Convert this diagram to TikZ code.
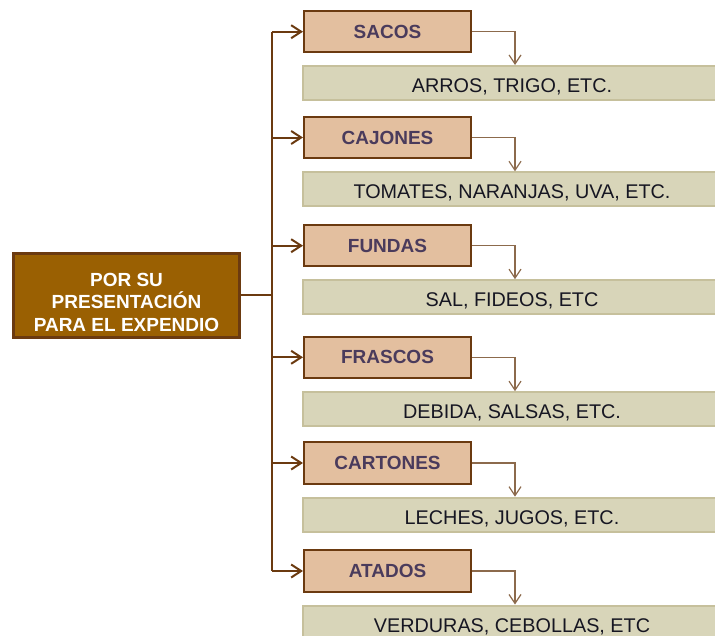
\documentclass[tikz,border=0pt]{standalone}
\usepackage{fontspec}
\setmainfont{Liberation Sans}
\usetikzlibrary{arrows.meta}

\definecolor{rootfill}{HTML}{9A6002}
\definecolor{darkbrown}{HTML}{6B3A10}
\definecolor{catfill}{HTML}{E3BF9F}
\definecolor{cattext}{HTML}{4A3B5C}
\definecolor{detfill}{HTML}{D8D5B9}
\definecolor{detline}{HTML}{C6C09C}
\definecolor{dettext}{HTML}{161622}
\definecolor{linkline}{HTML}{8C6A4C}

\tikzset{
  rootbox/.style={draw=darkbrown, line width=2.4pt, fill=rootfill,
    minimum width=226pt, minimum height=84pt, inner sep=0pt,
    align=center, text=white, text height=72pt, text depth=0pt,
    font=\fontsize{19}{22.5}\selectfont\bfseries},
  catbox/.style={draw=darkbrown, line width=2pt, fill=catfill,
    minimum width=167pt, minimum height=41.5pt, inner sep=0pt,
    text=cattext, font=\fontsize{19}{21}\selectfont\bfseries},
  detbox/.style={draw=detline, line width=2pt, fill=detfill,
    minimum width=418pt, minimum height=34pt, inner sep=0pt,
    text height=19.2pt, text depth=0pt,
    text=dettext, font=\fontsize{19.8}{22}\selectfont},
  trunkline/.style={draw=darkbrown, line width=2pt},
  branch/.style={draw=darkbrown, line width=2pt,
    -{Straight Barb[length=10pt, width=13pt, line width=2pt]}},
  droplink/.style={draw=linkline, line width=1.2pt,
    -{Straight Barb[length=9pt, width=12pt, line width=1.2pt]}},
}

\begin{document}
\begin{tikzpicture}[x=1pt, y=-1pt]
  \useasboundingbox (0,0) rectangle (715,635);

  % root
  \node[rootbox] (root) at (126.5,295.3) {POR SU\\PRESENTACIÓN\\PARA EL EXPENDIO};

  % categories
  \node[catbox] (c1) at (387.5,31.7)  {SACOS};
  \node[catbox] (c2) at (387.5,137.5) {CAJONES};
  \node[catbox] (c3) at (387.5,245.7) {FUNDAS};
  \node[catbox] (c4) at (387.5,357.3) {FRASCOS};
  \node[catbox] (c5) at (387.5,463.0) {CARTONES};
  \node[catbox] (c6) at (387.5,571.0) {ATADOS};

  % examples (the strip runs on past the right edge)
  \node[detbox] (d1) at (512,83.0)  {ARROS, TRIGO, ETC.};
  \node[detbox] (d2) at (512,189.3) {TOMATES, NARANJAS, UVA, ETC.};
  \node[detbox] (d3) at (512,297.2) {SAL, FIDEOS, ETC};
  \node[detbox] (d4) at (512,409.2) {DEBIDA, SALSAS, ETC.};
  \node[detbox] (d5) at (512,514.7) {LECHES, JUGOS, ETC.};
  \node[detbox] (d6) at (512,622.5) {VERDURAS, CEBOLLAS, ETC};

  % trunk and drop columns
  \coordinate (tx) at (272.3,0);
  \coordinate (dx) at (515,0);

  \draw[trunkline] (root.east) -- (root.east -| tx);
  \draw[trunkline] (c1.west -| tx) -- (c6.west -| tx);

  \foreach \i in {1,...,6} {
    \draw[branch] (c\i.west -| tx) -- (c\i.west);
    \draw[droplink] (c\i.east) -| (dx |- d\i.north);
  }
\end{tikzpicture}
\end{document}
